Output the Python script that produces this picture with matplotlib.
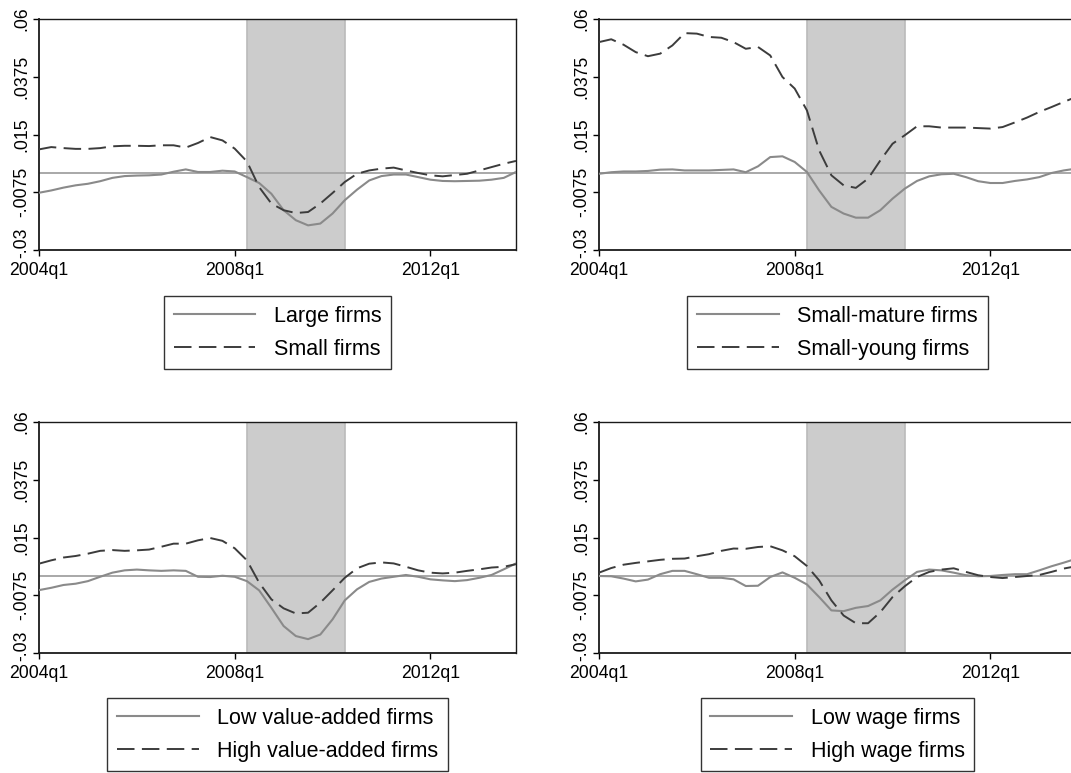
import numpy as np
import pandas as pd
import matplotlib
matplotlib.use('Agg')
import matplotlib.pyplot as plt
from matplotlib.transforms import ScaledTranslation

plt.rcParams['font.family'] = ['Liberation Sans', 'DejaVu Sans']

# quarterly axis 2004q1 .. 2013q4
quarters = [str(p).replace('Q', 'q') for p in pd.period_range('2004Q1', '2013Q4', freq='Q')]
tick_quarters = ['2004q1', '2008q1', '2012q1']
recession = ('2008q2', '2010q2')

yticks = [-0.03, -0.0075, 0.015, 0.0375, 0.06]
ytick_labels = ['-.03', '-.0075', '.015', '.0375', '.06']

# panel 1
large = [-0.0077, -0.0068, -0.0057, -0.0048, -0.0042, -0.0032, -0.0019, -0.0012, -0.0010, -0.0009,
         -0.0006, 0.0005, 0.0014, 0.0004, 0.0004, 0.0009, 0.0006, -0.0016, -0.0039, -0.0081,
         -0.0145, -0.0184, -0.0204, -0.0197, -0.0158, -0.0106, -0.0065, -0.0029, -0.0012, -0.0006,
         -0.0006, -0.0016, -0.0026, -0.0031, -0.0032, -0.0031, -0.0030, -0.0026, -0.0019, 0.0004]
small = [0.0092, 0.0101, 0.0097, 0.0094, 0.0094, 0.0097, 0.0104, 0.0106, 0.0106, 0.0105,
         0.0108, 0.0108, 0.0099, 0.0117, 0.0140, 0.0127, 0.0095, 0.0045, -0.0055, -0.0119,
         -0.0145, -0.0156, -0.0152, -0.0119, -0.0078, -0.0035, -0.0003, 0.0010, 0.0017, 0.0021,
         0.0010, 0.0000, -0.0009, -0.0013, -0.0008, -0.0003, 0.0010, 0.0023, 0.0036, 0.0047]

# panel 2
small_mature = [-0.0003, 0.0003, 0.0006, 0.0006, 0.0008, 0.0013, 0.0014, 0.0010, 0.0010, 0.0010,
                0.0012, 0.0014, 0.0003, 0.0026, 0.0062, 0.0065, 0.0043, 0.0004, -0.0068, -0.0132,
                -0.0158, -0.0174, -0.0174, -0.0145, -0.0100, -0.0061, -0.0031, -0.0013, -0.0005, -0.0003,
                -0.0016, -0.0032, -0.0039, -0.0039, -0.0031, -0.0025, -0.0016, 0.0000, 0.0010, 0.0017]
small_young = [0.0510, 0.0521, 0.0500, 0.0471, 0.0455, 0.0465, 0.0497, 0.0545, 0.0543, 0.0530,
               0.0527, 0.0510, 0.0484, 0.0491, 0.0458, 0.0374, 0.0329, 0.0244, 0.0088, -0.0009,
               -0.0048, -0.0058, -0.0022, 0.0049, 0.0114, 0.0147, 0.0182, 0.0182, 0.0177, 0.0177,
               0.0177, 0.0175, 0.0173, 0.0179, 0.0197, 0.0216, 0.0238, 0.0257, 0.0277, 0.0296]

# panel 3
low_va = [-0.0055, -0.0046, -0.0035, -0.0030, -0.0020, -0.0003, 0.0013, 0.0022, 0.0025, 0.0022,
          0.0020, 0.0022, 0.0020, -0.0003, -0.0004, 0.0001, -0.0003, -0.0020, -0.0056, -0.0124,
          -0.0195, -0.0234, -0.0246, -0.0228, -0.0169, -0.0095, -0.0052, -0.0023, -0.0010, -0.0003,
          0.0004, -0.0003, -0.0013, -0.0017, -0.0020, -0.0016, -0.0007, 0.0004, 0.0026, 0.0049]
high_va = [0.0048, 0.0061, 0.0072, 0.0078, 0.0087, 0.0098, 0.0101, 0.0098, 0.0100, 0.0103,
           0.0114, 0.0126, 0.0126, 0.0139, 0.0148, 0.0137, 0.0108, 0.0061, -0.0026, -0.0091,
           -0.0126, -0.0146, -0.0143, -0.0104, -0.0056, -0.0007, 0.0030, 0.0048, 0.0053, 0.0049,
           0.0036, 0.0022, 0.0013, 0.0010, 0.0013, 0.0020, 0.0026, 0.0033, 0.0036, 0.0046]

# panel 4
low_wage = [0.0000, -0.0001, -0.0010, -0.0021, -0.0014, 0.0007, 0.0020, 0.0020, 0.0007, -0.0007,
            -0.0007, -0.0013, -0.0039, -0.0038, -0.0004, 0.0014, -0.0007, -0.0033, -0.0082, -0.0134,
            -0.0137, -0.0124, -0.0117, -0.0095, -0.0053, -0.0017, 0.0016, 0.0025, 0.0022, 0.0013,
            0.0003, -0.0001, 0.0000, 0.0004, 0.0007, 0.0007, 0.0022, 0.0038, 0.0052, 0.0067]
high_wage = [0.0013, 0.0031, 0.0044, 0.0051, 0.0057, 0.0063, 0.0067, 0.0068, 0.0077, 0.0085,
             0.0098, 0.0107, 0.0106, 0.0113, 0.0116, 0.0100, 0.0077, 0.0039, -0.0017, -0.0095,
             -0.0154, -0.0184, -0.0184, -0.0141, -0.0082, -0.0040, -0.0004, 0.0016, 0.0025, 0.0030,
             0.0016, 0.0003, -0.0004, -0.0008, -0.0004, 0.0000, 0.0004, 0.0016, 0.0029, 0.0038]

panels = [
    (large, small, 'Large firms', 'Small firms'),
    (small_mature, small_young, 'Small-mature firms', 'Small-young firms'),
    (low_va, high_va, 'Low value-added firms', 'High value-added firms'),
    (low_wage, high_wage, 'Low wage firms', 'High wage firms'),
]

W, H = 1071, 773
fig = plt.figure(figsize=(W / 100, H / 100), dpi=100)

# pixel boxes (left, top, right, bottom); right column runs past the image edge
boxes = [(39, 19, 516, 250), (599, 19, 1076, 250),
         (39, 422, 516, 653), (599, 422, 1076, 653)]
legend_tops = [296, 296, 698, 698]

x = np.arange(len(quarters))
solid_col = '#8a8a8a'
dash_col = '#3c3c3c'

for (lo, hi, lab_lo, lab_hi), (l, t, r, b), lt in zip(panels, boxes, legend_tops):
    ax = fig.add_axes([l / W, 1 - b / H, (r - l) / W, (b - t) / H])
    ax.axvspan(quarters.index(recession[0]), quarters.index(recession[1]),
               facecolor='#cccccc', edgecolor='#bababa', linewidth=1.2, zorder=1)
    ax.axhline(0, color='#a8a8a8', lw=1.4, zorder=2)
    h1, = ax.plot(x, lo, color=solid_col, lw=1.5, zorder=3, label=lab_lo)
    h2, = ax.plot(x, hi, color=dash_col, lw=1.4, dashes=(9, 3.8), zorder=3, label=lab_hi)
    ax.set_xlim(0, len(quarters) - 1)
    ax.set_ylim(-0.03, 0.06)
    ax.set_xticks([quarters.index(q) for q in tick_quarters])
    ax.set_xticklabels(tick_quarters, fontsize=12.7)
    ax.set_yticks(yticks)
    ax.set_yticklabels(ytick_labels, fontsize=12.7, rotation=90, va='center')
    ax.tick_params(direction='out', length=4.5, width=1, color='black')
    ax.tick_params(axis='x', pad=4)
    ax.tick_params(axis='y', pad=2)
    # keep the lowest y label clear of the x labels
    lab0 = ax.get_yticklabels()[0]
    lab0.set_transform(lab0.get_transform() + ScaledTranslation(0, 0.07, fig.dpi_scale_trans))
    for s in ax.spines.values():
        s.set_color('#1a1a1a')
        s.set_linewidth(1.0)
    ax.spines['left'].set_linewidth(1.3)
    ax.spines['bottom'].set_linewidth(1.3)

    cx = (l + r) / 2 / W
    leg = fig.legend(handles=[h1, h2], loc='upper center', bbox_to_anchor=(cx, 1 - lt / H),
                     bbox_transform=fig.transFigure, fontsize=15.5, frameon=True,
                     fancybox=False, framealpha=1, edgecolor='#333333', borderaxespad=0,
                     handlelength=3.8, handletextpad=0.85, borderpad=0.45, labelspacing=0.55)
    leg.get_frame().set_linewidth(1.0)

fig.savefig('out.png', dpi=100)
